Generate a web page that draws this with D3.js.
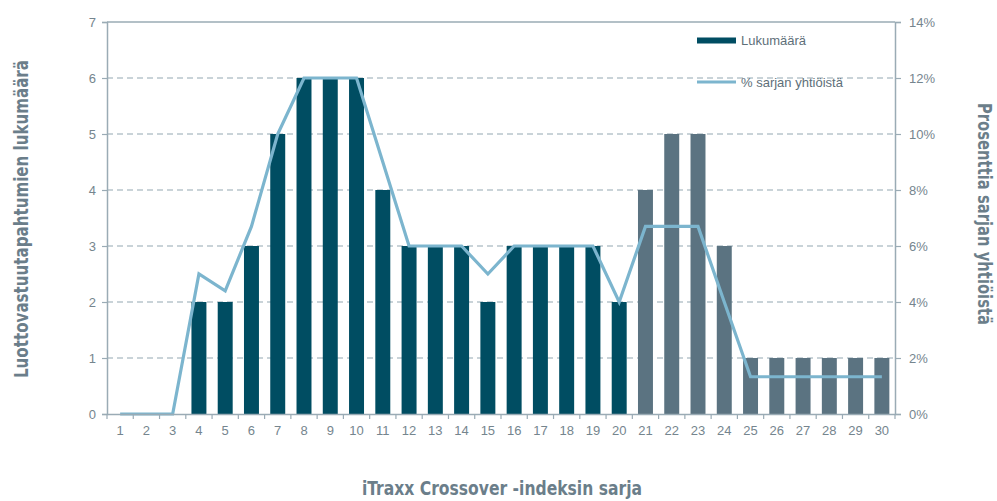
<!DOCTYPE html>
<html>
<head>
<meta charset="utf-8">
<script src="https://cdn.jsdelivr.net/npm/d3@7"></script>
<style>
  body { margin: 0; background: #fff; }
  .tick text { font-family: "Liberation Sans", Arial, sans-serif; font-size: 13px; fill: #75858e; }
  .title { font-family: "Liberation Sans Narrow", "DejaVu Sans Condensed", sans-serif; font-weight: bold; fill: #6b7e8a; }
</style>
</head>
<body>
<script>
// sarjat 1..30
var series = d3.range(1, 31).map(String);
var counts = [0,0,0,2,2,3,5,6,6,6,4,3,3,3,2,3,3,3,3,2,4,5,5,3,1,1,1,1,1,1];
var percents = [0,0,0,5,4.4,6.7,10,12,12,12,9,6,6,6,5,6,6,6,6,4,6.7,6.7,6.7,4,1.33,1.33,1.33,1.33,1.33,1.33];
var countTicks = [0,1,2,3,4,5,6,7];
var pctTicks = [0,2,4,6,8,10,12,14];
var lastDark = 20; // sarjat 21-> harmaalla

var width = 997, height = 501;
var margin = {top: 22, right: 102, bottom: 87, left: 107};
var w = width - margin.left - margin.right;
var h = height - margin.top - margin.bottom;

var axisColor = "#9aabb5";
var gridColor = "#94a7b1";

var svg = d3.select("body").append("svg")
    .attr("width", width)
    .attr("height", height);
var g = svg.append("g").attr("transform", `translate(${margin.left},${margin.top})`);

var x = d3.scaleBand().domain(series).range([0, w]).paddingInner(0.43).paddingOuter(0.215);
var y = d3.scaleLinear().domain([0, 7]).range([h, 0]);
var y2 = d3.scaleLinear().domain([0, 14]).range([h, 0]);

// dashed grid
g.selectAll(".grid")
    .data(countTicks.filter(d => d > 0 && d < 7))
    .join("line")
    .attr("x1", 0).attr("x2", w)
    .attr("y1", d => y(d)).attr("y2", d => y(d))
    .attr("stroke", gridColor)
    .attr("stroke-width", 1.2)
    .attr("stroke-dasharray", "6,4");

// top line
g.append("line")
    .attr("x1", 0).attr("x2", w)
    .attr("y1", y(7)).attr("y2", y(7))
    .attr("stroke", axisColor).attr("stroke-width", 1.5);

// bars
g.selectAll(".bar")
    .data(counts)
    .join("rect")
    .attr("x", (d, i) => x(series[i]))
    .attr("y", d => y(d))
    .attr("width", x.bandwidth())
    .attr("height", d => h - y(d))
    .attr("fill", (d, i) => i < lastDark ? "#004d62" : "#5b7381");

// line
var line = d3.line()
    .x((d, i) => x(series[i]) + x.bandwidth() / 2)
    .y(d => y2(d));
g.append("path")
    .datum(percents)
    .attr("d", line)
    .attr("fill", "none")
    .attr("stroke", "#7cb5ce")
    .attr("stroke-width", 3.2)
    .attr("stroke-linejoin", "miter");

// left axis
var yAxis = g.append("g")
    .call(d3.axisLeft(y).tickValues(countTicks).tickSize(5).tickPadding(6).tickFormat(d3.format("d")));
yAxis.select(".domain").attr("stroke", axisColor).attr("stroke-width", 1.5);
yAxis.selectAll(".tick line").attr("stroke", axisColor).attr("stroke-width", 1.2);

// right axis
var y2Axis = g.append("g")
    .attr("transform", `translate(${w},0)`)
    .call(d3.axisRight(y2).tickValues(pctTicks).tickSize(6).tickPadding(8).tickFormat(d => d + "%"));
y2Axis.select(".domain").attr("stroke", axisColor).attr("stroke-width", 1.5);
y2Axis.selectAll(".tick line").attr("stroke", axisColor).attr("stroke-width", 1.2);

// bottom axis
var xAxis = g.append("g")
    .attr("transform", `translate(0,${h})`)
    .call(d3.axisBottom(x).tickSize(0).tickPadding(12));
xAxis.select(".domain").attr("stroke", axisColor).attr("stroke-width", 1.5);
// tick marks on band boundaries
g.selectAll(".xb")
    .data(series)
    .join("line")
    .attr("x1", d => x(d) + x.bandwidth() / 2 - x.step() / 2)
    .attr("x2", d => x(d) + x.bandwidth() / 2 - x.step() / 2)
    .attr("y1", h).attr("y2", h + 5)
    .attr("stroke", axisColor).attr("stroke-width", 1.2);
g.append("line")
    .attr("x1", w).attr("x2", w).attr("y1", h).attr("y2", h + 5)
    .attr("stroke", axisColor).attr("stroke-width", 1.2);

// titles (condensed, fitted to the original widths)
svg.append("text")
    .attr("class", "title")
    .attr("transform", "translate(28,219) rotate(-90)")
    .attr("text-anchor", "middle")
    .attr("textLength", 318).attr("lengthAdjust", "spacingAndGlyphs")
    .style("font-size", "20px")
    .text("Luottovastuutapahtumien lukumäärä");
svg.append("text")
    .attr("class", "title")
    .attr("transform", "translate(978,214) rotate(90)")
    .attr("text-anchor", "middle")
    .attr("textLength", 222).attr("lengthAdjust", "spacingAndGlyphs")
    .style("font-size", "20px")
    .text("Prosenttia sarjan yhtiöistä");
svg.append("text")
    .attr("class", "title")
    .attr("x", 502).attr("y", 495)
    .attr("text-anchor", "middle")
    .attr("textLength", 280).attr("lengthAdjust", "spacingAndGlyphs")
    .style("font-size", "20px")
    .text("iTraxx Crossover -indeksin sarja");

// legend
var legend = svg.append("g").attr("transform", "translate(697,0)");
legend.append("rect")
    .attr("x", 0).attr("y", 37.5).attr("width", 39).attr("height", 6)
    .attr("fill", "#004d62");
legend.append("line")
    .attr("x1", 0).attr("x2", 39).attr("y1", 82).attr("y2", 82)
    .attr("stroke", "#7cb5ce").attr("stroke-width", 3.2);
legend.selectAll(".lt")
    .data(["Lukumäärä", "% sarjan yhtiöistä"])
    .join("text")
    .attr("x", 44)
    .attr("y", (d, i) => i ? 86.5 : 45)
    .style("font-family", "'Liberation Sans', Arial, sans-serif")
    .style("font-size", "13px")
    .attr("fill", "#5e6f79")
    .text(d => d);
</script>
</body>
</html>
